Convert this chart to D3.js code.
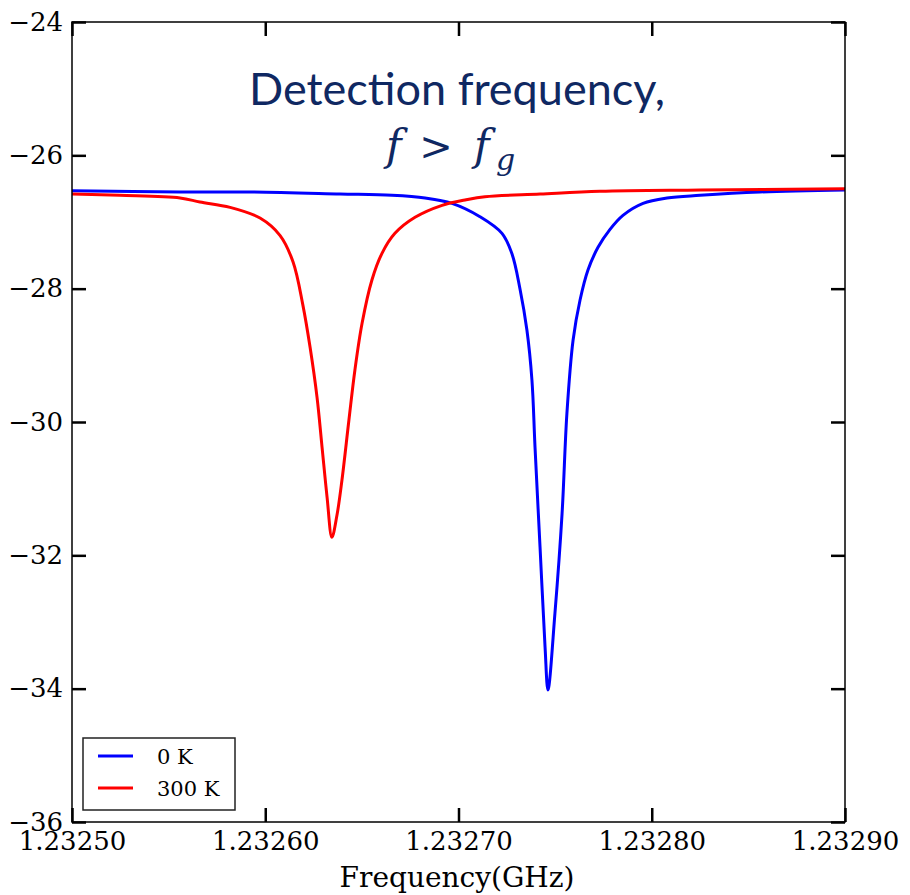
<!DOCTYPE html>
<html>
<head>
<meta charset="utf-8">
<script src="https://cdn.jsdelivr.net/npm/d3@7"></script>
<style>
  body { margin: 0; background: #fff; }
  svg { display: block; }
</style>
</head>
<body>
<svg id="chart" width="910" height="895"></svg>
<script>
// values
var xTicks = [1.2325, 1.2326, 1.2327, 1.2328, 1.2329];
var yTicks = [-24, -26, -28, -30, -32, -34, -36];
var seriesNames = ["0 K", "300 K"];
var seriesColors = ["#0000ff", "#ff0000"];

var freqCold = [1.2325000, 1.2325559, 1.2325921, 1.2326387, 1.2326656, 1.2326827, 1.2326966, 1.2327111,
  1.2327225, 1.2327277, 1.2327318, 1.2327354, 1.2327380, 1.2327396, 1.2327422, 1.2327448, 1.2327463,
  1.2327499, 1.2327536, 1.2327561, 1.2327593, 1.2327629, 1.2327670, 1.2327722, 1.2327784, 1.2327851,
  1.2327955, 1.2328079, 1.2328250, 1.2328560, 1.2329000];
var dbCold = [-26.53, -26.55, -26.55, -26.58, -26.60, -26.64, -26.72, -26.92,
  -27.17, -27.48, -28.00, -28.62, -29.37, -30.38, -31.88, -33.38, -34.02,
  -32.87, -31.37, -29.87, -28.77, -28.17, -27.72, -27.38, -27.11, -26.90,
  -26.72, -26.64, -26.60, -26.55, -26.52];

var freqHot = [1.2325000, 1.2325248, 1.2325559, 1.2325662, 1.2325818, 1.2325973, 1.2326076, 1.2326144,
  1.2326195, 1.2326232, 1.2326268, 1.2326294, 1.2326320, 1.2326345, 1.2326371, 1.2326397, 1.2326433,
  1.2326464, 1.2326501, 1.2326552, 1.2326604, 1.2326671, 1.2326775, 1.2326915, 1.2327034, 1.2327137,
  1.2327422, 1.2327732, 1.2328250, 1.2329000];
var dbHot = [-26.58, -26.60, -26.64, -26.70, -26.78, -26.94, -27.20, -27.60,
  -28.25, -28.88, -29.63, -30.38, -31.13, -31.73, -31.40, -30.87, -29.97,
  -29.22, -28.52, -27.87, -27.47, -27.17, -26.93, -26.75, -26.67, -26.62,
  -26.58, -26.54, -26.52, -26.50];

var padL = 72, padT = 22, padR = 845, padB = 822;
var serif = "'DejaVu Serif', serif";

var svg = d3.select("#chart");

var x = d3.scaleLinear().domain([1.2325, 1.2329]).range([padL, padR]);
var y = d3.scaleLinear().domain([-24, -36]).range([padT, padB]);

// clip
svg.append("clipPath").attr("id", "plotclip")
  .append("rect").attr("x", padL).attr("y", padT).attr("width", padR - padL).attr("height", padB - padT);

var line = d3.line()
  .x(function(d){ return x(d[0]); })
  .y(function(d){ return y(d[1]); })
  .curve(d3.curveCatmullRom.alpha(0.5));

var series = [d3.zip(freqCold, dbCold), d3.zip(freqHot, dbHot)];

svg.append("g").attr("clip-path", "url(#plotclip)")
  .selectAll("path").data(series).enter().append("path")
  .attr("d", line)
  .attr("fill", "none")
  .attr("stroke", function(d, i){ return seriesColors[i]; })
  .attr("stroke-width", 3)
  .attr("stroke-linejoin", "round");

// frame
svg.append("rect").attr("x", padL).attr("y", padT).attr("width", padR - padL).attr("height", padB - padT)
  .attr("fill", "none").attr("stroke", "#000").attr("stroke-width", 1.5);

function styleAxis(g) {
  g.select(".domain").remove();
  g.selectAll(".tick line").attr("stroke", "#000").attr("stroke-width", 2.5);
  g.selectAll("text").attr("font-family", serif).attr("font-size", 26).attr("fill", "#000");
}

svg.append("g").attr("transform", "translate(" + padL + ",0)")
  .call(d3.axisLeft(y).tickValues(yTicks).tickSize(-14).tickPadding(9).tickFormat(d3.format("d")))
  .call(styleAxis);
svg.append("g").attr("transform", "translate(" + padR + ",0)")
  .call(d3.axisRight(y).tickValues(yTicks).tickSize(-14).tickFormat(""))
  .call(styleAxis);
svg.append("g").attr("transform", "translate(0," + padB + ")")
  .call(d3.axisBottom(x).tickValues(xTicks).tickSize(-14).tickPadding(10).tickFormat(d3.format(".5f")))
  .call(styleAxis);
svg.append("g").attr("transform", "translate(0," + padT + ")")
  .call(d3.axisTop(x).tickValues(xTicks).tickSize(-14).tickFormat(""))
  .call(styleAxis);

// x label
svg.append("text").attr("x", 457).attr("y", 887).attr("text-anchor", "middle")
  .attr("font-family", serif).attr("font-size", 28).text("Frequency(GHz)");

// title
var navy = "#0f2862";
svg.append("text").attr("x", 457).attr("y", 105).attr("text-anchor", "middle")
  .attr("font-family", "Lato, sans-serif").attr("font-size", 45).attr("fill", navy)
  .text("Detection frequency,");
var mathFont = "'DejaVu Serif', serif";
var eq = svg.append("g").attr("fill", navy).attr("font-family", mathFont);
eq.append("text").attr("x", 386).attr("y", 160).attr("font-size", 42).attr("font-style", "italic").text("f");
eq.append("text").attr("x", 436).attr("y", 160).attr("text-anchor", "middle").attr("font-size", 40).text(">");
eq.append("text").attr("x", 474).attr("y", 160).attr("font-size", 42).attr("font-style", "italic").text("f");
eq.append("text").attr("x", 496).attr("y", 170).attr("font-size", 30).attr("font-style", "italic").text("g");

// legend
var lg = svg.append("g").attr("transform", "translate(83,738)");
lg.append("rect").attr("width", 152).attr("height", 72)
  .attr("fill", "#fff").attr("stroke", "#222").attr("stroke-width", 1.5);
var items = lg.selectAll("g.item").data(seriesNames).enter().append("g")
  .attr("transform", function(d, i){ return "translate(0," + (18 + i * 32) + ")"; });
items.append("line").attr("x1", 15).attr("x2", 50)
  .attr("stroke", function(d, i){ return seriesColors[i]; }).attr("stroke-width", 3);
items.append("text").attr("x", 74).attr("y", 8)
  .attr("font-family", serif).attr("font-size", 21).text(function(d){ return d; });
</script>
</body>
</html>
